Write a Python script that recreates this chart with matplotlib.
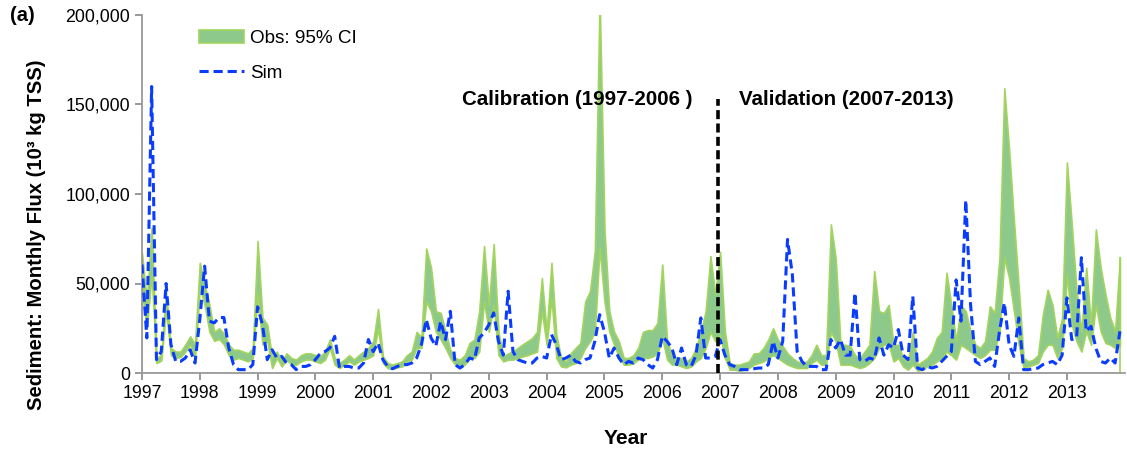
import numpy as np
import matplotlib
matplotlib.use("Agg")
from matplotlib import pyplot as plt
from matplotlib.ticker import FuncFormatter

plt.rcParams['font.family'] = ['Liberation Sans', 'DejaVu Sans']

# monthly series Jan 1997 .. Dec 2013, values in 10^3 kg TSS (one row per year)
obs_upper = [
    67000, 40000, 81000, 8400, 10000, 45000, 14000, 12000, 12000, 16000, 20500, 16000,
    61500, 49000, 38000, 23000, 25000, 22000, 16000, 13000, 13000, 12000, 11000, 14000,
    73700, 31000, 27000, 8400, 12000, 6500, 11000, 8400, 7500, 10000, 11000, 11000,
    10000, 9300, 12000, 18700, 8400, 5600, 7500, 10000, 7500, 10000, 12000, 14000,
    17700, 35800, 9300, 5600, 4700, 5600, 6500, 10000, 12000, 23000, 20000, 69600,
    58800, 34500, 33600, 23000, 13000, 8400, 7500, 10000, 16800, 18700, 34500, 70900,
    38000, 72000, 23000, 9300, 11000, 12000, 14000, 16000, 17700, 19600, 23000, 53000,
    23000, 61600, 21500, 8400, 6500, 11000, 14000, 16800, 40000, 45700, 68000, 210000,
    80000, 34500, 23000, 17700, 8400, 8400, 10000, 14000, 23000, 24000, 24000, 28000,
    60600, 17700, 10000, 8400, 8400, 6500, 8400, 14000, 23000, 34500, 65300, 43800,
    67700, 23000, 5600, 4700, 4700, 5600, 6500, 11000, 11000, 14000, 18700, 25000,
    18700, 15000, 11000, 8400, 6500, 5600, 6500, 10000, 15800, 10000, 10000, 83000,
    64000, 15800, 15800, 15000, 10000, 8400, 12000, 15800, 57000, 34500, 33600, 38000,
    15800, 15800, 8400, 6500, 23000, 4700, 6500, 8400, 12000, 19600, 23000, 56000,
    38000, 17700, 38000, 34500, 23000, 15800, 14000, 17700, 37300, 33600, 64400, 159000,
    124500, 85000, 47600, 8400, 6500, 7500, 10000, 32600, 46600, 38000, 19600, 30800,
    117600, 83000, 45700, 23000, 58800, 27000, 80200, 58800, 43800, 30800, 23300, 64700,
]
obs_lower = [
    45000, 25000, 55000, 5600, 7000, 35000, 10000, 8400, 9000, 12000, 16000, 8400,
    48000, 38000, 23000, 18000, 19000, 16000, 10000, 7500, 8400, 7500, 6500, 8400,
    45000, 16000, 18000, 2800, 8400, 3700, 7500, 4700, 4700, 6500, 7500, 7500,
    6500, 5600, 7500, 14000, 4700, 2800, 4700, 6500, 4700, 6500, 7500, 8400,
    10000, 25000, 5600, 2800, 2400, 3200, 3700, 6500, 7500, 14000, 14000, 40000,
    34500, 23000, 18700, 14000, 8400, 4700, 3700, 4700, 8400, 8400, 12000, 40000,
    23000, 38000, 10000, 6500, 7500, 7500, 8400, 9300, 10000, 11000, 12000, 34500,
    15800, 42000, 8400, 3700, 3200, 4700, 5600, 8400, 14000, 17700, 23000, 70000,
    40000, 23000, 15800, 9300, 4700, 4700, 5600, 7500, 8400, 8400, 9300, 11000,
    19600, 7500, 4700, 4700, 3700, 2800, 3700, 6500, 8400, 14000, 23000, 17700,
    21500, 8400, 1900, 1900, 1300, 1900, 2800, 4700, 5600, 6500, 8400, 10000,
    8400, 6500, 4700, 3700, 2800, 2800, 2800, 5600, 7500, 4700, 4700, 23000,
    17700, 4700, 4700, 4700, 3700, 2800, 3700, 5600, 8400, 14000, 15800, 15800,
    6500, 8400, 3700, 1900, 4700, 1300, 1900, 3700, 4700, 6500, 8400, 12000,
    10000, 7500, 15800, 14000, 12000, 10000, 8400, 10000, 13000, 13000, 23000, 64400,
    53000, 34500, 15800, 2800, 3700, 4700, 5600, 12000, 15800, 15800, 8400, 14000,
    55000, 27000, 17700, 12000, 23300, 15800, 38000, 23300, 16800, 15800, 14000, 15000,
]
sim = [
    60600, 19600, 160000, 7500, 12000, 50000, 16000, 6500, 6500, 8400, 13000, 5600,
    30000, 59700, 29000, 28000, 31000, 31000, 14000, 4700, 1900, 1900, 1900, 4700,
    37000, 27000, 7500, 13000, 8400, 9300, 5600, 4700, 1900, 3700, 3700, 4700,
    7500, 11000, 12000, 14000, 20500, 2800, 3700, 3700, 2800, 2800, 5600, 18700,
    12000, 16800, 7500, 3700, 2400, 3700, 4700, 4700, 5600, 8400, 15800, 29900,
    19600, 15000, 28900, 18700, 34500, 4700, 2800, 4700, 8400, 7500, 19600, 22400,
    27000, 33600, 17700, 10000, 45700, 12000, 7500, 6500, 5600, 5600, 8400, 9300,
    8400, 21500, 15800, 7500, 8400, 10000, 6500, 5600, 7500, 8400, 17700, 32600,
    23000, 8400, 14000, 8400, 4700, 6500, 5600, 8400, 7500, 4700, 2800, 7500,
    20500, 17700, 14000, 4700, 14000, 4700, 3700, 10000, 30800, 8400, 8400, 9300,
    18700, 10000, 4700, 3700, 1900, 1900, 1900, 2400, 2800, 2800, 4700, 17700,
    8400, 17700, 74600, 55000, 12000, 6500, 3700, 3700, 3700, 1900, 1900, 18700,
    14000, 18700, 10000, 10000, 44800, 7500, 6500, 8400, 7500, 19600, 10000, 15800,
    14000, 24300, 10000, 7500, 42900, 2800, 1900, 3700, 2800, 3700, 6500, 9300,
    12000, 52000, 29000, 96500, 38000, 6500, 4700, 6500, 8400, 3700, 23300, 39200,
    15800, 9300, 30800, 1900, 1900, 2400, 2800, 4700, 5600, 6500, 4700, 10000,
    42000, 18700, 19600, 64400, 23300, 26100, 14000, 6500, 5600, 8400, 5600, 23300,
]
years = list(range(1997, 2014))

x = 1997 + np.arange(len(obs_upper)) / 12.0
split_x = 2006.97

fig = plt.figure(figsize=(11.27, 4.5), dpi=100)
ax = fig.add_axes([0.126, 0.171, 0.872, 0.796])

green_fill = '#8ec98c'
green_edge = '#a3d45e'
ax.fill_between(x, obs_lower, obs_upper, facecolor=green_fill, edgecolor=green_edge,
                linewidth=1.2, label='Obs: 95% CI', zorder=2)
# outline of the area at both ends
ax.vlines([x[0], x[-1]], 0, [obs_upper[0], obs_upper[-1]], color=green_edge, linewidth=1.2, zorder=2)
ax.plot(x, sim, color='#0a3cff', linestyle=(0, (3, 1.6)), linewidth=2.2, label='Sim', zorder=3)
ax.plot([split_x, split_x], [0, 153000], color='black', linestyle=(0, (2.5, 1.2)),
        linewidth=2.6, zorder=4)

ax.text(2002.53, 152500, 'Calibration (1997-2006 )', fontsize=14.8, fontweight='bold',
        ha='left', va='center')
ax.text(2007.33, 152500, 'Validation (2007-2013)', fontsize=14.8, fontweight='bold',
        ha='left', va='center')

ax.set_xlim(1997, 2014)
ax.set_ylim(0, 200000)
ax.set_xticks(years)
ax.set_xticklabels([str(y) for y in years])
ax.set_yticks([0, 50000, 100000, 150000, 200000])
ax.yaxis.set_major_formatter(FuncFormatter(lambda v, p: f"{int(v):,}"))
ax.tick_params(axis='both', labelsize=12.8, colors='#888888', labelcolor='black',
               length=5, width=1.2, direction='out')

for s in ['top', 'right']:
    ax.spines[s].set_visible(False)
for s in ['left', 'bottom']:
    ax.spines[s].set_color('#999999')
    ax.spines[s].set_linewidth(1.3)

ax.set_ylabel('Sediment: Monthly Flux (10³ kg TSS)', fontsize=14.6, fontweight='bold')
ax.yaxis.set_label_coords(-0.098, 0.385)
ax.set_xlabel('Year', fontsize=15, fontweight='bold')
ax.xaxis.set_label_coords(0.4925, -0.155)
fig.text(0.009, 0.953, '(a)', fontsize=14.5, fontweight='bold')

ax.legend(loc='upper left', bbox_to_anchor=(0.058, 0.957), frameon=False, fontsize=13.6,
          handlelength=2.4, labelspacing=0.9, borderpad=0, borderaxespad=0, handletextpad=0.3)

fig.savefig('out.png', dpi=100)
